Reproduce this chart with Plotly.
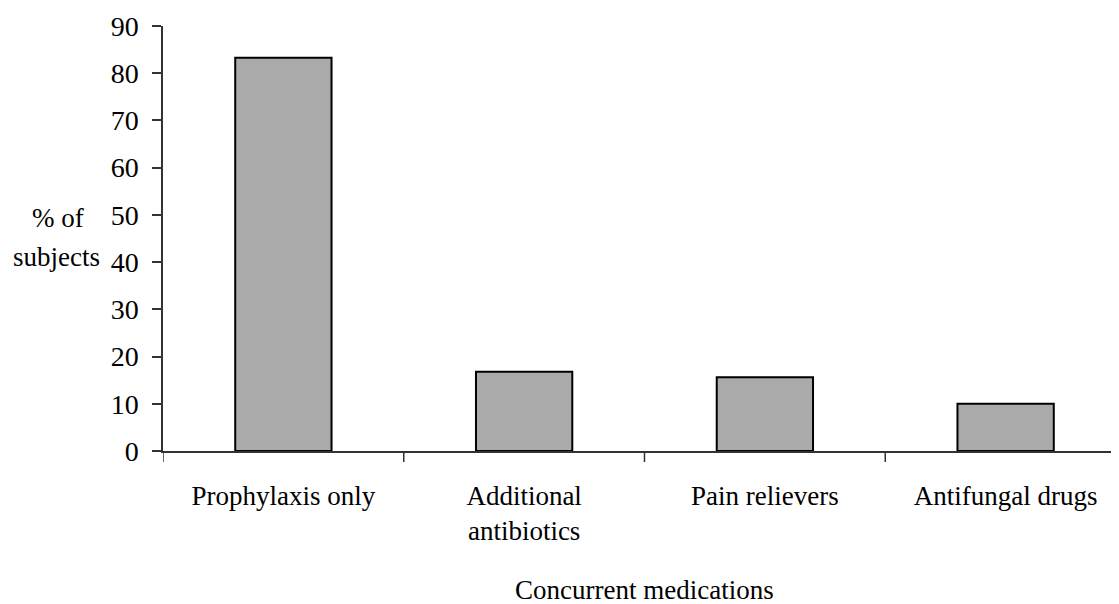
import plotly.graph_objects as go

categories = ["Prophylaxis only", "Additional<br>antibiotics", "Pain relievers", "Antifungal drugs"]
values = [83.3, 16.8, 15.6, 10.0]
y_ticks = [0, 10, 20, 30, 40, 50, 60, 70, 80, 90]
boundaries = [-0.5, 0.5, 1.5, 2.5, 3.5]

FONT = "Liberation Serif"
FS = 27

fig = go.Figure()
fig.add_trace(go.Bar(
    x=list(range(len(categories))),
    y=values,
    width=0.4,
    marker=dict(color="#aaaaaa", line=dict(color="black", width=2)),
))

fig.update_layout(
    width=1119, height=604,
    margin=dict(l=155, r=1, t=18, b=161),
    paper_bgcolor="white", plot_bgcolor="white",
    showlegend=False,
    font=dict(family=FONT, size=FS, color="black"),
    xaxis=dict(
        type="linear",
        range=[-0.5, 3.5],
        tickmode="array",
        tickvals=[0, 1, 2, 3],
        ticktext=categories,
        ticks="",
        showline=True, linecolor="#333333", linewidth=1.5,
        showgrid=False, zeroline=False,
        ticklabelstandoff=20,
    ),
    yaxis=dict(
        range=[0, 90],
        tickvals=y_ticks,
        ticks="outside", ticklen=9, tickcolor="#333333", tickwidth=1.5,
        showline=True, linecolor="#333333", linewidth=1.5,
        showgrid=False, zeroline=False,
        ticklabelstandoff=8,
        tickfont=dict(size=28),
    ),
)

# category boundary ticks on x axis
for b in boundaries:
    fig.add_shape(type="line", xref="x", yref="paper", x0=b, x1=b, y0=0, y1=-0.026,
                  line=dict(color="#333333", width=1.5))

fig.add_annotation(text="% of", xref="paper", yref="paper", x=-0.109, y=0.548,
                   showarrow=False, xanchor="center", yanchor="middle", font=dict(family=FONT, size=FS))
fig.add_annotation(text="subjects", xref="paper", yref="paper", x=-0.1106, y=0.456,
                   showarrow=False, xanchor="center", yanchor="middle", font=dict(family=FONT, size=FS))
fig.add_annotation(text="Concurrent medications", xref="paper", yref="paper", x=0.5, y=-0.328,
                   showarrow=False, xanchor="center", yanchor="middle", font=dict(family=FONT, size=FS))

fig.write_html("out.html")
